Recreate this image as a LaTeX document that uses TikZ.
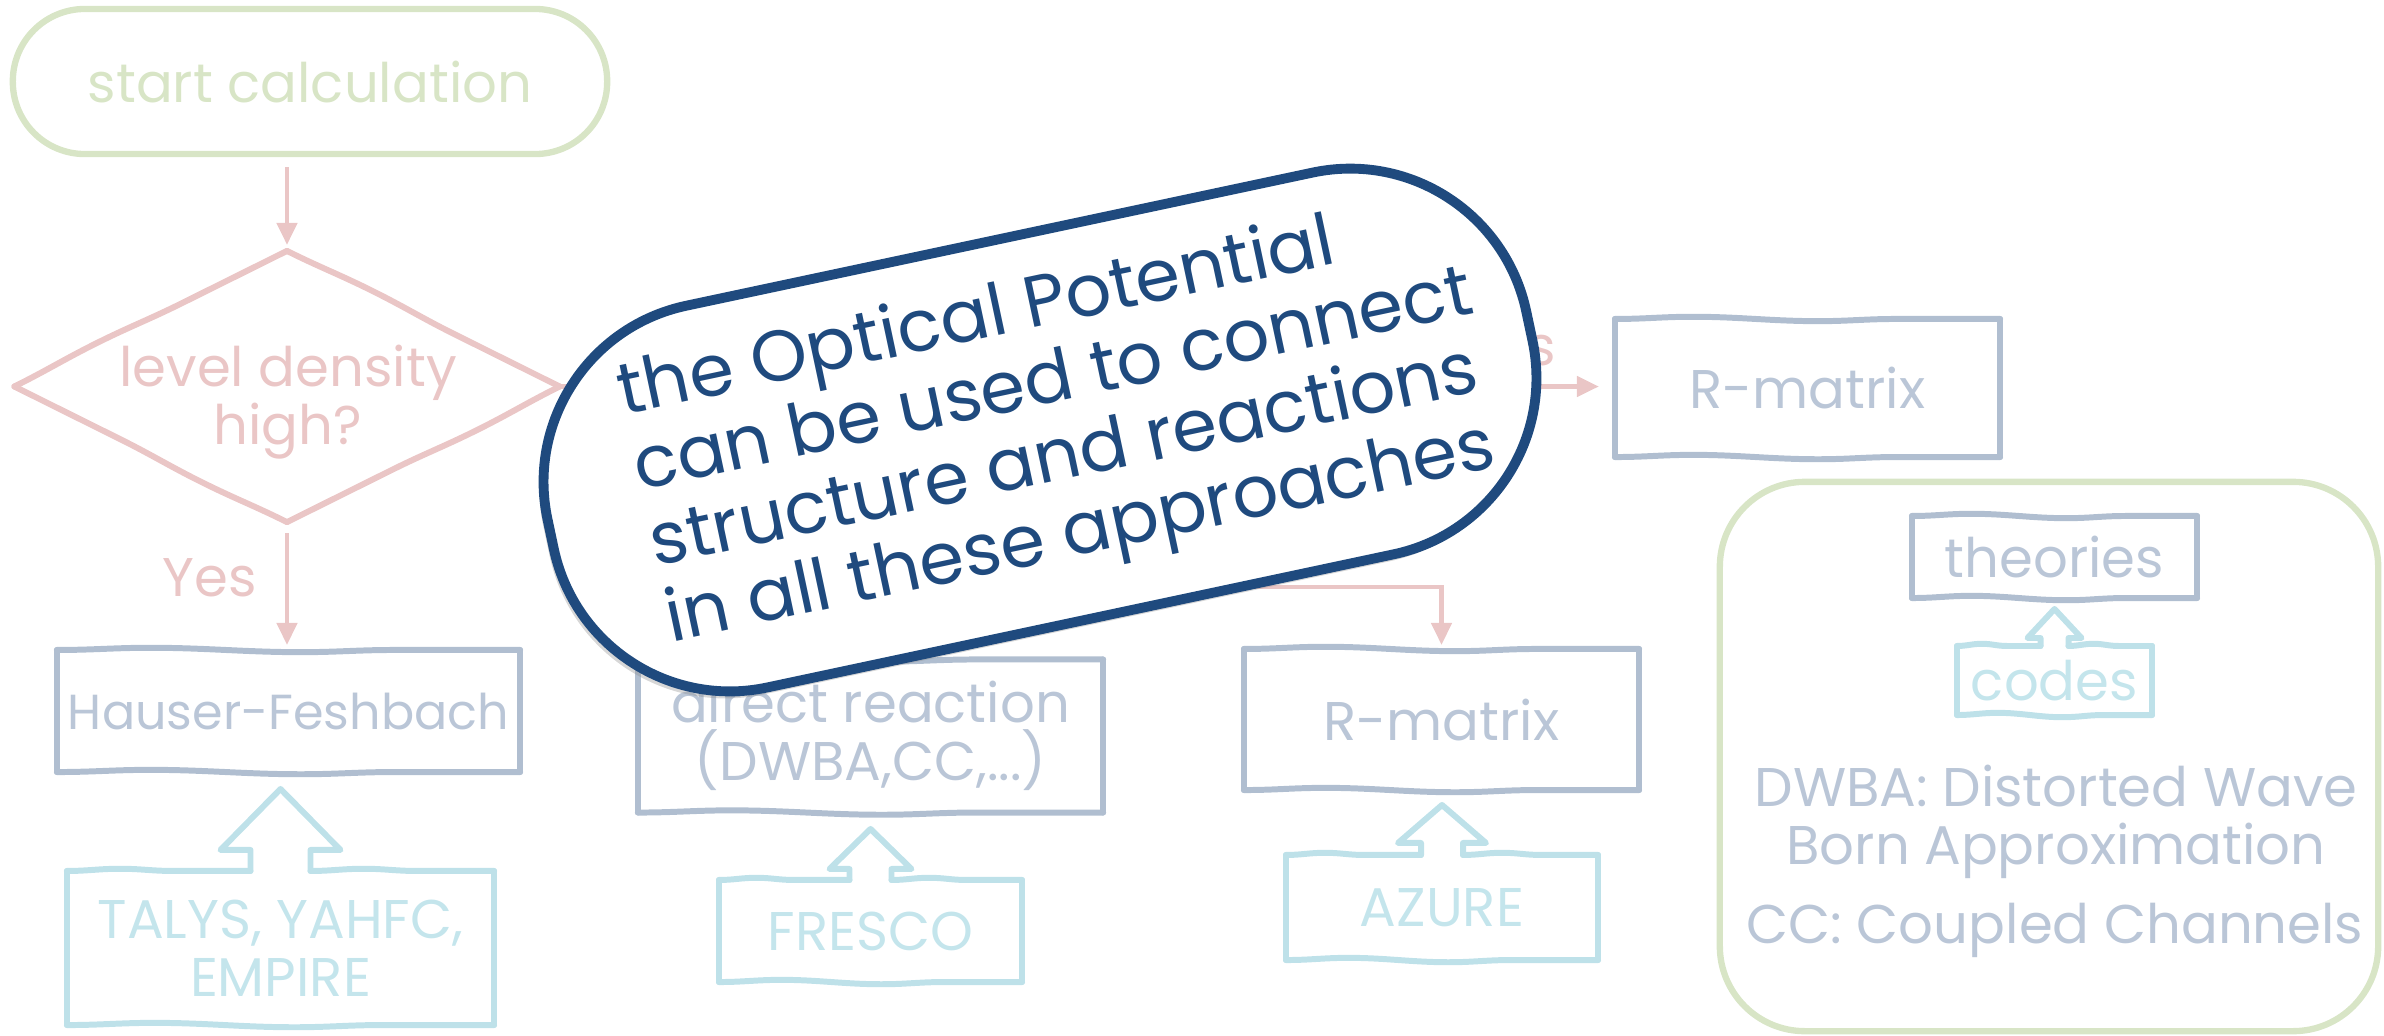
\documentclass[tikz,border=0pt]{standalone}
\usepackage{fontspec}
\setmainfont{Poppins}
\usetikzlibrary{arrows.meta,calc,decorations.pathmorphing,shadows}

\definecolor{startgreen}{RGB}{216,229,198}
\definecolor{flowpink}{RGB}{234,198,198}
\definecolor{boxgrey}{RGB}{176,190,208}
\definecolor{boxtext}{RGB}{186,198,215}
\definecolor{codecyan}{RGB}{190,225,233}
\definecolor{codetext}{RGB}{196,229,236}
\definecolor{notedark}{RGB}{31,74,126}

\tikzset{
  holder/.style={inner sep=0pt, outer sep=0pt},
  wave/.style={decorate, decoration={snake, amplitude=0.022cm, segment length=#1}},
  wave/.default=2cm,
  theoryline/.style={draw=boxgrey, line width=1.7pt, line cap=round, line join=round},
  codeline/.style={draw=codecyan, line width=1.7pt, line cap=round, line join=round},
  flowline/.style={draw=flowpink, line width=1.7pt, line cap=round, line join=round},
  flowarrow/.style={draw=flowpink, line width=1.3pt, -{Triangle[length=0.22cm,width=0.2cm]}},
  basefont/.style={font=\fontsize{15.5pt}{16.5pt}\selectfont},
  theorytext/.style={basefont, text=boxtext, align=center},
  codetxt/.style={basefont, text=codetext, align=center},
  flowtext/.style={basefont, text=flowpink, align=center},
}

% wavy-edged frame around a node: straight sides, wavy top and bottom
\newcommand{\wavyframe}[3]{%
  \draw[#2, wave=#3] (#1.north west) -- (#1.north east);
  \draw[#2, wave=#3] (#1.south west) -- (#1.south east);
  \draw[#2] (#1.north west) -- (#1.south west) (#1.north east) -- (#1.south east);
}

% wavy frame with an upward block arrow grown out of its top edge
% #1 node, #2 shaft half width, #3 head half width, #4 head base height,
% #5 tip height, #6 wave length on top, #7 wave length at the bottom
\newcommand{\upframe}[7]{%
  \draw[codeline, wave=#6] (#1.north west) -- ($(#1.north)+(-#2,0)$);
  \draw[codeline, wave=#6] ($(#1.north)+(#2,0)$) -- (#1.north east);
  \draw[codeline, wave=#7] (#1.south west) -- (#1.south east);
  \draw[codeline] (#1.north west) -- (#1.south west) (#1.north east) -- (#1.south east);
  \draw[codeline] ($(#1.north)+(-#2,0)$) -- ($(#1.north)+(-#2,-#4)$)
    -- ($(#1.north)+(-#3,-#4)$) -- ($(#1.north)+(0,-#5)$)
    -- ($(#1.north)+(#3,-#4)$) -- ($(#1.north)+(#2,-#4)$) -- ($(#1.north)+(#2,0)$);
}

\begin{document}
\begin{tikzpicture}[x=0.01cm, y=-0.01cm]
\useasboundingbox (0,0) rectangle (2384,1036);

% ---------- flow chart ----------
\node[holder, minimum width=5.94cm, minimum height=1.45cm, draw=startgreen,
      line width=1.8pt, rounded corners=0.72cm, text=startgreen, basefont]
      (start) at (310,81.5) {start calculation};

\node[holder, minimum width=5.45cm, minimum height=2.71cm] (dens) at (287,386.5) {};
\draw[flowline, wave=3cm] (dens.north) -- (dens.east);
\draw[flowline, wave=3cm] (dens.east) -- (dens.south);
\draw[flowline, wave=3cm] (dens.south) -- (dens.west);
\draw[flowline, wave=3cm] (dens.west) -- (dens.north);
\node[flowtext] (densq) at (288,402) {level density\\high?};

\node[holder, minimum width=4.63cm, minimum height=1.22cm, theorytext,
      font=\fontsize{14pt}{16pt}\selectfont] (hf) at (288.5,711) {Hauser-Feshbach};
\wavyframe{hf}{theoryline}{3cm}

\node[holder, minimum width=4.65cm, minimum height=1.53cm, theorytext] (direct) at (870.5,736) {direct reaction\\(DWBA,CC,...)};
\wavyframe{direct}{theoryline}{3cm}

\node[holder, minimum width=3.95cm, minimum height=1.41cm, theorytext] (rmlow) at (1441.5,719.5) {R-matrix};
\wavyframe{rmlow}{theoryline}{2.6cm}

\node[holder, minimum width=3.85cm, minimum height=1.38cm, theorytext] (rmup) at (1807.5,388) {R-matrix};
\wavyframe{rmup}{theoryline}{2.5cm}

% code boxes
\node[holder, minimum width=4.27cm, minimum height=1.54cm, codetxt] (talys) at (280.5,948) {TALYS, YAHFC,\\EMPIRE};
\upframe{talys}{30}{60}{21}{82}{1.7cm}{2.8cm}

\node[holder, minimum width=3.03cm, minimum height=1.02cm, codetxt] (fresco) at (870.5,931) {FRESCO};
\upframe{fresco}{21}{41}{11}{51}{1.2cm}{2cm}

\node[holder, minimum width=3.12cm, minimum height=1.05cm, codetxt] (azure) at (1442,907.5) {AZURE};
\upframe{azure}{21}{44}{12}{50}{1.25cm}{2cm}

% connectors
\draw[flowarrow, shorten <=0.13cm, shorten >=0.06cm] (dens.north |- start.south) -- (dens.north);
\draw[flowarrow, shorten <=0.11cm, shorten >=0.05cm] (dens.south) -- (dens.south |- hf.north);
\node[flowtext] (yes) at (210,578) {Yes};

\draw[flowarrow, shorten >=0.16cm] (dens.east) -- (dens.east -| rmup.west);
\node[flowtext] (sidelbl) at (1542,351) {s};

\coordinate (bend) at (760,587);
\draw[flowarrow, shorten >=0.04cm] (dens.east) -| (bend) -| (rmlow.north);

% ---------- legend ----------
\node[holder, minimum width=6.58cm, minimum height=5.49cm, draw=startgreen,
      line width=1.8pt, rounded corners=0.85cm] (legend) at (2049,756.5) {};
\node[holder, minimum width=2.85cm, minimum height=0.82cm, theorytext] (theories) at (2054.5,557) {theories};
\wavyframe{theories}{theoryline}{1.9cm}
\node[holder, minimum width=1.95cm, minimum height=0.69cm, codetxt] (codes) at (2054.5,680.5) {codes};
\upframe{codes}{14}{27}{8}{37}{0.8cm}{1.3cm}
\node[theorytext] (abbrdwba) at (2056,822) {DWBA: Distorted Wave\\Born Approximation};
\node[theorytext] (abbrcc) at (2055,930) {CC: Coupled Channels};

% ---------- note on top ----------
\node[draw=notedark, line width=2.8pt, fill=white, rounded corners=1.8cm,
      minimum width=10cm, minimum height=3.9cm, rotate=12,
      drop shadow={shadow xshift=-1.2pt, shadow yshift=-2pt, opacity=0.35, fill=black!45}]
      (note) at (1040,430) {};
\node[rotate=12, align=left, text=notedark, font=\fontsize{20.5pt}{22pt}\selectfont]
      (notetext) at (1062,422)
      {the Optical Potential\\can be used to connect\\structure and reactions\\in all these approaches};
\end{tikzpicture}
\end{document}
